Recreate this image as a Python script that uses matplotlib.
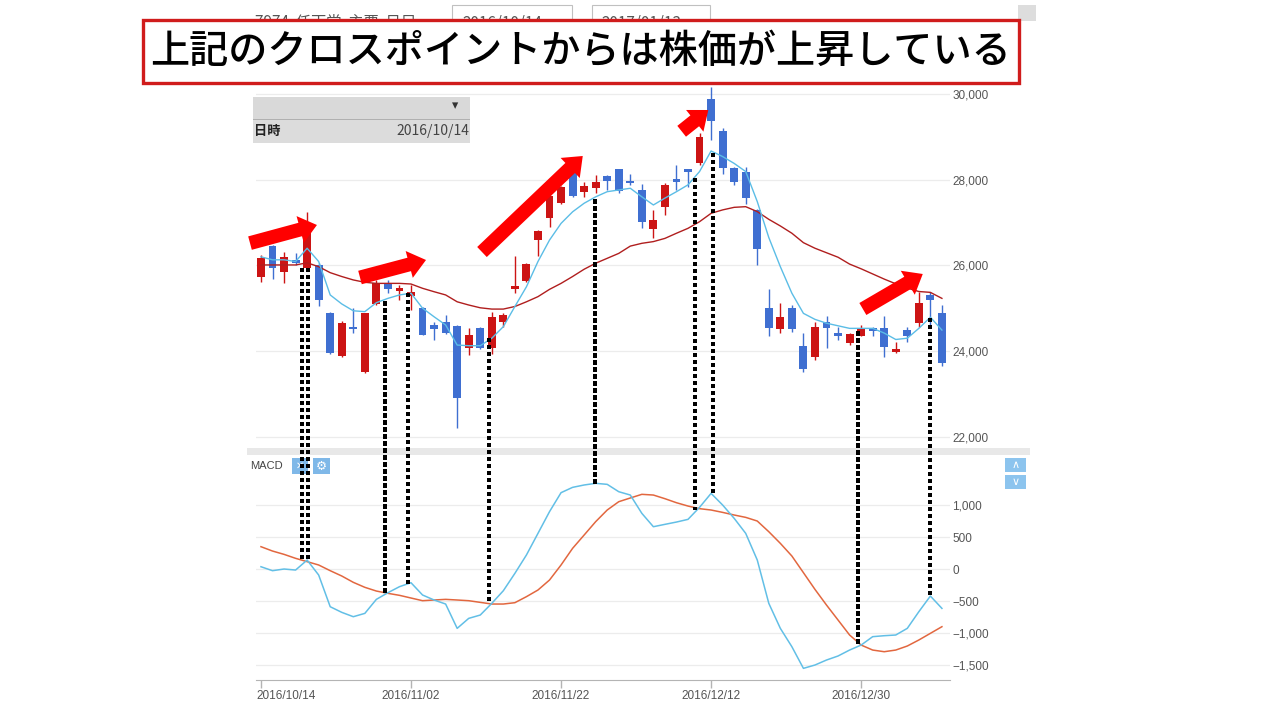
"""Nintendo (7974) daily candles + MACD screenshot, with the red callout arrows
and the dotted cross-point markers drawn over it.

    python plot.py   -> out.png (1280x720)
"""

import matplotlib

matplotlib.use("Agg")  # headless
import matplotlib.pyplot as plt
import numpy as np
import pandas as pd
from matplotlib.patches import ConnectionPatch, FancyArrowPatch, Rectangle
from matplotlib.transforms import ScaledTranslation

plt.rcParams["font.family"] = ["Noto Sans CJK JP", "DejaVu Sans"]

W, H = 1280, 720

# --- data -------------------------------------------------------------------
dates = pd.to_datetime([
    "2016-10-14", "2016-10-17", "2016-10-18", "2016-10-19", "2016-10-20",
    "2016-10-21", "2016-10-24", "2016-10-25", "2016-10-26", "2016-10-27",
    "2016-10-28", "2016-10-31", "2016-11-01", "2016-11-02", "2016-11-04",
    "2016-11-07", "2016-11-08", "2016-11-09", "2016-11-10", "2016-11-11",
    "2016-11-14", "2016-11-15", "2016-11-16", "2016-11-17", "2016-11-18",
    "2016-11-21", "2016-11-22", "2016-11-24", "2016-11-25", "2016-11-28",
    "2016-11-29", "2016-11-30", "2016-12-01", "2016-12-02", "2016-12-05",
    "2016-12-06", "2016-12-07", "2016-12-08", "2016-12-09", "2016-12-12",
    "2016-12-13", "2016-12-14", "2016-12-15", "2016-12-16", "2016-12-19",
    "2016-12-20", "2016-12-21", "2016-12-22", "2016-12-26", "2016-12-27",
    "2016-12-28", "2016-12-29", "2016-12-30", "2017-01-04", "2017-01-05",
    "2017-01-06", "2017-01-10", "2017-01-11", "2017-01-12", "2017-01-13",
])

open_ = [25740, 26460, 25840, 26130, 25950, 26010, 24900, 23890, 24570, 23500,
         25100, 25580, 25410, 25290, 25000, 24620, 24690, 24590, 24070, 24530,
         24070, 24690, 25440, 25640, 26590, 27100, 27450, 28170, 27720, 27800,
         28090, 28240, 27980, 27760, 26850, 27370, 27990, 28230, 28380, 29880,
         29140, 28270, 28190, 27290, 25000, 24510, 25000, 24120, 23850, 24690,
         24420, 24180, 24360, 24540, 24530, 23980, 24490, 24650, 25310, 24900]
high = [26240, 26480, 26320, 26280, 27250, 26060, 24920, 24700, 25000, 24900,
        25650, 25660, 25540, 25540, 25040, 24690, 24840, 24610, 24530, 24560,
        24920, 24880, 26220, 26050, 26820, 27640, 27850, 28350, 27950, 28110,
        28110, 28260, 28130, 27890, 27290, 27920, 28340, 28240, 29100, 30170,
        29210, 28290, 28300, 27320, 25440, 25120, 25080, 24420, 24690, 24830,
        24570, 24430, 24610, 24560, 24830, 24200, 24560, 25390, 25390, 25080]
low = [25620, 25680, 25600, 26010, 25900, 25050, 23930, 23870, 24410, 23480,
       25080, 25350, 25190, 24960, 24370, 24260, 24400, 22210, 23910, 24040,
       23930, 24570, 25360, 25620, 26220, 26900, 27430, 27590, 27600, 27690,
       27760, 27680, 27870, 26870, 26650, 27180, 27760, 27840, 28350, 28930,
       28130, 27880, 27430, 26010, 24360, 24420, 24450, 23520, 23790, 24070,
       24260, 24140, 24340, 24340, 23870, 23950, 24200, 24570, 24570, 23640]
close = [26170, 25930, 26200, 26060, 26750, 25190, 23950, 24660, 24510, 24880,
         25600, 25440, 25470, 25380, 24380, 24510, 24420, 22900, 24380, 24070,
         24800, 24840, 25530, 26030, 26800, 27620, 27820, 27620, 27850, 27950,
         27980, 27740, 27920, 27020, 27060, 27880, 27950, 28190, 29000, 29380,
         28270, 27950, 27570, 26380, 24530, 24800, 24510, 23570, 24550, 24530,
         24340, 24390, 24510, 24460, 24100, 24040, 24350, 25130, 25190, 23730]

ma5 = [26200, 26130, 26130, 26090, 26400, 26090, 25310, 25100, 24940, 24920,
       25130, 25230, 25310, 25350, 25000, 24800, 24610, 24140, 24125, 24125,
       24300, 24570, 25040, 25500, 26090, 26590, 26980, 27250, 27450, 27600,
       27720, 27760, 27800, 27600, 27410, 27570, 27720, 27880, 28190, 28670,
       28540, 28380, 28190, 27490, 26650, 25970, 25350, 24880, 24740, 24650,
       24590, 24530, 24530, 24530, 24420, 24270, 24300, 24530, 24790, 24490]
ma25 = [26010, 26010, 26010, 26010, 26060, 25970, 25830, 25740, 25660, 25605,
        25580, 25580, 25580, 25565, 25465, 25385, 25310, 25150, 25075, 25010,
        24980, 24980, 25040, 25150, 25270, 25440, 25580, 25740, 25910, 26050,
        26165, 26280, 26450, 26515, 26555, 26630, 26750, 26865, 27020, 27215,
        27295, 27355, 27370, 27255, 27075, 26920, 26750, 26530, 26400, 26295,
        26190, 26030, 25920, 25800, 25680, 25570, 25470, 25390, 25370, 25230]

macd = [36, -26, 0, -16, 140, -94, -589, -677, -745, -693,
        -474, -370, -276, -214, -406, -484, -547, -927, -771, -719,
        -536, -339, -68, 219, 557, 896, 1193, 1276, 1313, 1339,
        1323, 1208, 1156, 870, 661, 698, 734, 776, 964, 1182,
        1000, 792, 557, 141, -536, -927, -1214, -1552, -1500, -1422,
        -1359, -1266, -1188, -1057, -1042, -1031, -927, -667, -422, -615]
signal = [349, 281, 229, 167, 115, 63, -26, -109, -208, -286,
          -344, -380, -411, -453, -495, -484, -474, -484, -495, -521,
          -547, -547, -526, -432, -328, -172, 63, 323, 531, 740,
          922, 1052, 1110, 1167, 1156, 1099, 1036, 984, 943, 922,
          885, 844, 807, 750, 583, 401, 203, -57, -318, -563,
          -797, -1031, -1188, -1266, -1292, -1266, -1203, -1109, -1005, -901]

tick_dates = ["2016/10/14", "2016/11/02", "2016/11/22", "2016/12/12", "2016/12/30"]
price_ticks = [22000, 24000, 26000, 28000, 30000]
macd_ticks = [-1500, -1000, -500, 0, 500, 1000]

# dotted cross-point markers: trading-day position, price end, MACD end
cross_day = [3.53, 4.05, 10.75, 12.76, 19.78, 28.94, 37.6, 39.2, 51.76, 57.97]
cross_price = [25930, 25930, 25150, 25350, 24300, 27530, 28030, 28620, 24450, 24770]
cross_macd = [114, 114, -370, -223, -536, 1339, 933, 1192, -1188, -422]

# red callout arrows, (trading-day position, price): tail -> head
arrow_tail = [(-0.95, 26520), (8.58, 25717), (19.15, 26312), (36.45, 29130), (52.15, 24982)]
arrow_head = [(4.85, 26943), (14.3, 26126), (27.88, 28553), (38.76, 29627), (57.34, 25799)]

title = "上記のクロスポイントからは株価が上昇している"

# --- colours ----------------------------------------------------------------
UP, DOWN = "#cc1414", "#3f6fd1"
MA5_C, MA25_C = "#5bbde6", "#b01e1e"
MACD_C, SIG_C = "#62bfe6", "#e2673f"
GRID = "#ececec"
TICK_TXT = "#555555"


def px_rect(x0, y0, x1, y1):
    """Figure-fraction rect from screenshot pixel corners (top-left origin)."""
    return [x0 / W, 1 - y1 / H, (x1 - x0) / W, (y1 - y0) / H]


def fxy(px, py):
    return px / W, 1 - py / H


fig = plt.figure(figsize=(W / 100, H / 100), dpi=100)
fig.patch.set_facecolor("white")

ax1 = fig.add_axes(px_rect(256, 86, 950, 446))
ax2 = fig.add_axes(px_rect(256, 456, 950, 680), sharex=ax1)
for ax in (ax1, ax2):
    ax.set_facecolor("none")
    for side in ("top", "left", "right", "bottom"):
        ax.spines[side].set_visible(False)

x = np.arange(len(dates))
o, h, lo, c = (np.array(v, dtype=float) for v in (open_, high, low, close))
colors = np.where(c >= o, UP, DOWN)

# price panel
ax1.vlines(x, lo, h, colors=colors, lw=1.0, zorder=2)
ax1.bar(x, np.maximum(np.abs(c - o), 60), bottom=np.minimum(o, c), width=0.68,
        color=colors, zorder=3)
ax1.plot(x, ma25, color=MA25_C, lw=1.0, zorder=4)
ax1.plot(x, ma5, color=MA5_C, lw=1.0, zorder=4)
ax1.set_ylim(21784, 30187)
ax1.set_yticks(price_ticks)
ax1.set_yticklabels([f"{v:,}" for v in price_ticks])
ax1.yaxis.tick_right()
ax1.tick_params(axis="y", length=0, pad=1.5, labelsize=8.5, labelcolor=TICK_TXT)
ax1.tick_params(axis="x", length=0, labelbottom=False)
ax1.grid(axis="y", color=GRID, lw=0.9, zorder=0)
for lab in ax1.get_yticklabels():
    lab.set_fontfamily("Liberation Sans")

for (tx, tp), (hx, hp) in zip(arrow_tail, arrow_head):
    ax1.add_patch(FancyArrowPatch(
        (tx, tp), (hx, hp),
        arrowstyle="simple,head_length=12.5,head_width=20,tail_width=10",
        mutation_scale=1, color="#ff0000", lw=0, shrinkA=0, shrinkB=0,
        clip_on=False, zorder=6))

# MACD panel
ax2.plot(x, signal, color=SIG_C, lw=1.1, zorder=3)
ax2.plot(x, macd, color=MACD_C, lw=1.1, zorder=4)
ax2.set_ylim(-1734, 1766)
ax2.set_yticks(macd_ticks)
ax2.set_yticklabels([f"{v:,}".replace("-", "\u2212") for v in macd_ticks])
ax2.yaxis.tick_right()
ax2.tick_params(axis="y", length=0, pad=1.5, labelsize=8.5, labelcolor=TICK_TXT)
ax2.grid(axis="y", color=GRID, lw=0.9, zorder=0)
ax2.spines["bottom"].set_visible(True)
ax2.spines["bottom"].set_color("#b4b4b4")

tick_idx = [int(np.where(dates == pd.Timestamp(d.replace("/", "-")))[0][0]) for d in tick_dates]
ax2.set_xticks(tick_idx)
ax2.set_xticklabels(tick_dates)
ax2.tick_params(axis="x", length=6, width=1, color="#b4b4b4", pad=1.5,
                labelsize=8.5, labelcolor=TICK_TXT)
for lab in ax2.get_yticklabels() + ax2.get_xticklabels():
    lab.set_fontfamily("Liberation Sans")
first = ax2.get_xticklabels()[0]
first.set_ha("left")
first.set_transform(first.get_transform() + ScaledTranslation(-5 / 100, 0, fig.dpi_scale_trans))
ax1.set_xlim(-0.43, 59.7)

# dotted cross-point markers spanning both panels
for d, p, m in zip(cross_day, cross_price, cross_macd):
    fig.add_artist(ConnectionPatch(
        xyA=(d, p), coordsA=ax1.transData, xyB=(d, m), coordsB=ax2.transData,
        color="black", lw=2.2, linestyle=(0, (1, 1)), capstyle="butt",
        antialiased=False, zorder=5))

# --- screenshot chrome ------------------------------------------------------
def add_rect(x0, y0, x1, y1, z=2, **kw):
    fig.add_artist(Rectangle(fxy(x0, y1), (x1 - x0) / W, (y1 - y0) / H,
                             transform=fig.transFigure, zorder=z, **kw))


# band between the panels
add_rect(247, 448, 1030, 455, fc="#e8e8e8", lw=0)

# info box at top-left of price panel
add_rect(253, 97, 470, 119, fc="#d9d9d9", lw=0)
add_rect(253, 120, 470, 143, fc="#dcdcdc", lw=0)
add_rect(253, 119, 470, 120, fc="#b0b0b0", lw=0)
fig.text(*fxy(455, 106), "\u25BE", ha="center", va="center", fontsize=9,
         color="#333333", family=["DejaVu Sans"], zorder=3)
fig.text(*fxy(254, 131), "日時", ha="left", va="center", fontsize=9.5,
         fontweight="bold", color="#222222", zorder=3)
fig.text(*fxy(469, 131), "2016/10/14", ha="right", va="center", fontsize=10,
         color="#444444", zorder=3)

# MACD header and icons
fig.text(*fxy(250, 466), "MACD", ha="left", va="center", fontsize=8,
         color="#444444", family=["Liberation Sans"], zorder=3)
add_rect(292, 458, 308, 474, fc="#7fb8e8", lw=0, z=3)
add_rect(313, 458, 330, 474, fc="#7fb8e8", lw=0, z=3)
fig.text(*fxy(300, 466), "\u2715", ha="center", va="center", fontsize=7,
         color="white", family=["DejaVu Sans"], zorder=4)
fig.text(*fxy(321.5, 466), "\u2699", ha="center", va="center", fontsize=9,
         color="white", family=["DejaVu Sans"], zorder=4)
add_rect(1005, 458, 1026, 472, fc="#8cc4ee", lw=0, z=3)
add_rect(1005, 475, 1026, 489, fc="#8cc4ee", lw=0, z=3)
fig.text(*fxy(1015.5, 465.5), "\u2227", ha="center", va="center", fontsize=8,
         color="white", family=["DejaVu Sans"], zorder=4)
fig.text(*fxy(1015.5, 482), "\u2228", ha="center", va="center", fontsize=8,
         color="white", family=["DejaVu Sans"], zorder=4)

# toolbar behind the title box
fig.text(*fxy(255, 27), "7974  任天堂  主要  日足", ha="left", va="baseline",
         fontsize=11, color="#555555", zorder=1)
add_rect(452, 5, 572, 34, fc="white", ec="#c0c0c0", lw=0.8, z=1)
add_rect(592, 5, 710, 34, fc="white", ec="#c0c0c0", lw=0.8, z=1)
fig.text(*fxy(462, 27), "2016/10/14", ha="left", va="baseline", fontsize=11,
         color="#555555", zorder=1.5)
fig.text(*fxy(582, 27), "-", ha="center", va="baseline", fontsize=11,
         color="#555555", zorder=1.5)
fig.text(*fxy(601, 27), "2017/01/13", ha="left", va="baseline", fontsize=11,
         color="#555555", zorder=1.5)
add_rect(1018, 5, 1036, 21, fc="#dddddd", lw=0, z=1)

# title callout
add_rect(143, 20, 1019, 83, z=10, fc="white", ec="#d01c1c", lw=2.4)
fig.text(*fxy(150, 52), title, ha="left", va="center", fontsize=28.2,
         fontweight="medium", color="black", zorder=11)

fig.savefig("out.png", dpi=100)
